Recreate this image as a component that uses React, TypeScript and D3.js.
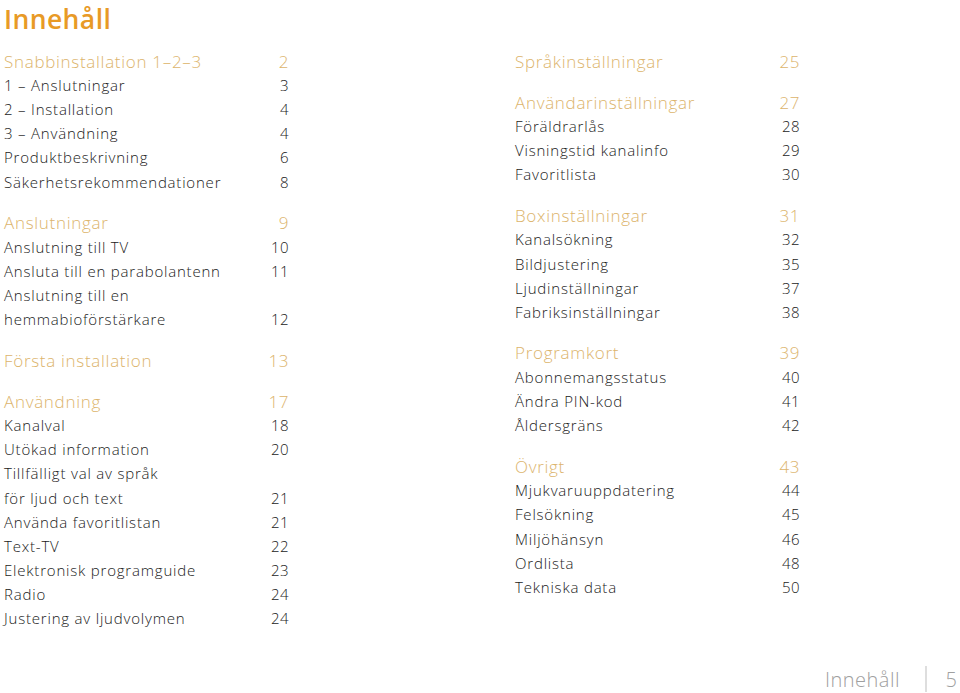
import React from "react";
import * as d3 from "d3";

type Entry = { label: string; page: string; heading?: boolean; newSection?: boolean };

const title = "Innehåll";
const footerLabel = "Innehåll";
const footerPage = "5";

const leftEntries: Entry[] = [
  { label: "Snabbinstallation 1–2–3", page: "2", heading: true, newSection: true },
  { label: "1 – Anslutningar", page: "3" },
  { label: "2 – Installation", page: "4" },
  { label: "3 – Användning", page: "4" },
  { label: "Produktbeskrivning", page: "6" },
  { label: "Säkerhetsrekommendationer", page: "8" },
  { label: "Anslutningar", page: "9", heading: true, newSection: true },
  { label: "Anslutning till TV", page: "10" },
  { label: "Ansluta till en parabolantenn", page: "11" },
  { label: "Anslutning till en", page: "" },
  { label: "hemmabioförstärkare", page: "12" },
  { label: "Första installation", page: "13", heading: true, newSection: true },
  { label: "Användning", page: "17", heading: true, newSection: true },
  { label: "Kanalval", page: "18" },
  { label: "Utökad information", page: "20" },
  { label: "Tillfälligt val av språk", page: "" },
  { label: "för ljud och text", page: "21" },
  { label: "Använda favoritlistan", page: "21" },
  { label: "Text-TV", page: "22" },
  { label: "Elektronisk programguide", page: "23" },
  { label: "Radio", page: "24" },
  { label: "Justering av ljudvolymen", page: "24" },
];

const rightEntries: Entry[] = [
  { label: "Språkinställningar", page: "25", heading: true, newSection: true },
  { label: "Användarinställningar", page: "27", heading: true, newSection: true },
  { label: "Föräldrarlås", page: "28" },
  { label: "Visningstid kanalinfo", page: "29" },
  { label: "Favoritlista", page: "30" },
  { label: "Boxinställningar", page: "31", heading: true, newSection: true },
  { label: "Kanalsökning", page: "32" },
  { label: "Bildjustering", page: "35" },
  { label: "Ljudinställningar", page: "37" },
  { label: "Fabriksinställningar", page: "38" },
  { label: "Programkort", page: "39", heading: true, newSection: true },
  { label: "Abonnemangsstatus", page: "40" },
  { label: "Ändra PIN-kod", page: "41" },
  { label: "Åldersgräns", page: "42" },
  { label: "Övrigt", page: "43", heading: true, newSection: true },
  { label: "Mjukvaruuppdatering", page: "44" },
  { label: "Felsökning", page: "45" },
  { label: "Miljöhänsyn", page: "46" },
  { label: "Ordlista", page: "48" },
  { label: "Tekniska data", page: "50" },
];

const W = 960;
const H = 693;
const FONT = "'Open Sans', 'DejaVu Sans', sans-serif";
const ORANGE = "#e89a26";
const TAN = "#dcb46c";
const INK = "#1a1a1a";
const GREY = "#a0a0a0";

function layout(entries: Entry[]) {
  let u = 0;
  return entries.map((e, i) => {
    if (i > 0) u += e.newSection ? 1.7 : 1;
    return { ...e, u };
  });
}

const yScale = d3.scaleLinear().domain([0, 1]).range([61, 61 + 24.12]);

function Column({ entries, x0, x1 }: { entries: Entry[]; x0: number; x1: number }) {
  const rows = layout(entries);
  return (
    <g>
      {rows.map((r, i) => {
        const y = yScale(r.u);
        const fs = r.heading ? 17 : 15;
        const fill = r.heading ? TAN : INK;
        const ls = r.heading ? 0.7 : 0.8;
        return (
          <g key={i}>
            <text x={x0} y={y} dominantBaseline="central" fontSize={fs} fill={fill} letterSpacing={ls} fontWeight={300} fontFamily={FONT}>
              {r.label}
            </text>
            {r.page && (
              <text x={x1} y={y} dominantBaseline="central" fontSize={fs} fill={fill} textAnchor="end" letterSpacing={0.5} fontWeight={300} fontFamily={FONT}>
                {r.page}
              </text>
            )}
          </g>
        );
      })}
    </g>
  );
}

export default function App() {
  return (
    <svg width={W} height={H} style={{ position: "absolute", left: 0, top: 0, background: "#fff" }}>
      <text x={4} y={28.6} fontSize={26.5} fontWeight={600} letterSpacing={0.4} fill={ORANGE} fontFamily={FONT}>
        {title}
      </text>
      <Column entries={leftEntries} x0={4} x1={289} />
      <Column entries={rightEntries} x0={515} x1={800} />
      <text x={900} y={679} dominantBaseline="central" fontSize={20} fill={GREY} textAnchor="end" letterSpacing={0.5} fontFamily={FONT} fontWeight={300}>
        {footerLabel}
      </text>
      <line x1={926} x2={926} y1={666} y2={692} stroke="#bdbdbd" strokeWidth={1} />
      <text x={957} y={679} dominantBaseline="central" fontSize={20} fill={GREY} textAnchor="end" fontFamily={FONT} fontWeight={300}>
        {footerPage}
      </text>
    </svg>
  );
}
